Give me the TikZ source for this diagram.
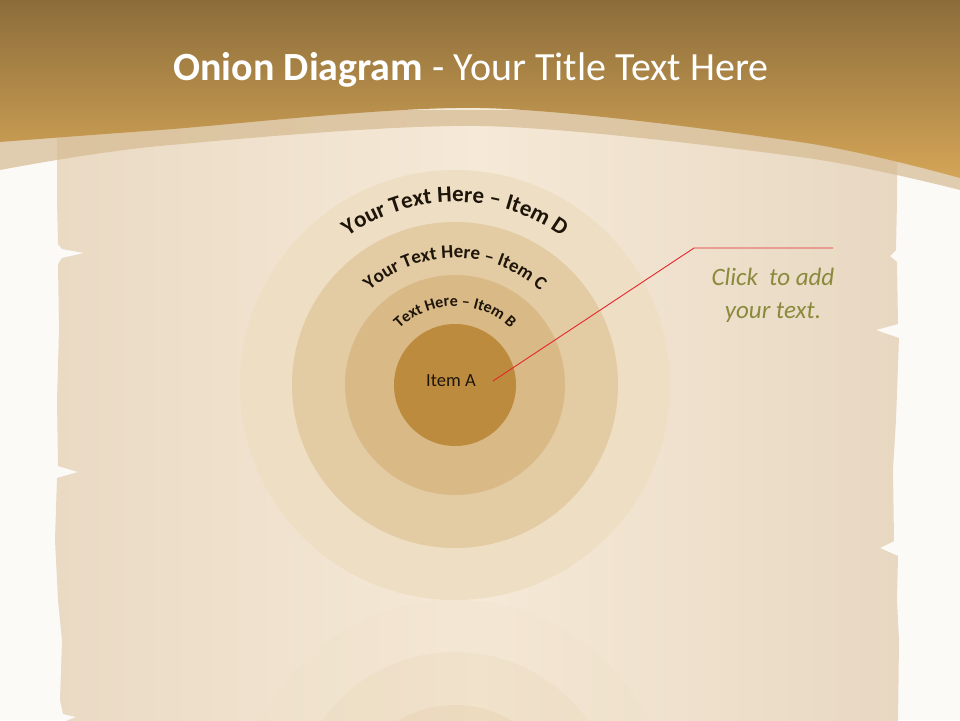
\documentclass[tikz,border=0pt]{standalone}
\usepackage{fontspec}
\setmainfont{Carlito}
\usetikzlibrary{decorations.text}
\definecolor{pagebg}{HTML}{FCFAF7}
\definecolor{parchedge}{HTML}{EADAC4}
\definecolor{parchmid}{HTML}{F5E9D7}
\definecolor{parchedgeR}{HTML}{E8D8C2}
\definecolor{hdtop}{HTML}{8C6D3A}
\definecolor{hdbot}{HTML}{D4A557}
\definecolor{bandcol}{HTML}{D6BB92}
\definecolor{ringD}{HTML}{EEDEC3}
\definecolor{ringC}{HTML}{E3CBA3}
\definecolor{ringB}{HTML}{D9B986}
\definecolor{ringA}{HTML}{BD8B3D}
\definecolor{inktext}{HTML}{1E150A}
\definecolor{olivetext}{HTML}{8B893C}
\definecolor{calloutred}{HTML}{E5262C}
\begin{document}
\begin{tikzpicture}[x=1pt,y=-1pt,
  ring/.style={circle, inner sep=0pt, draw=none},
  callout/.style={draw=calloutred, line width=0.9pt},
  note/.style={align=center, text=olivetext, font=\fontsize{25}{33}\selectfont\itshape},
  titlestyle/.style={text=white, font=\fontsize{40}{44}\selectfont, anchor=base},
  arctext/.style={decorate, decoration={text along path, text align=center, text color=inktext, text={#1}}}
]
\clip (0,0) rectangle (960,720);
\fill[pagebg] (0,0) rectangle (960,720);
% parchment
\shade[left color=parchedge, right color=parchedgeR, middle color=parchmid]
  (57,90) -- (57,200) -- (58,244) -- (62,249) -- (84,253) -- (62,258) -- (58,264)
  -- (59,330) -- (57,400) -- (58,466) -- (78,472) -- (57,478) -- (55,540)
  -- (58,600) -- (62,640) -- (60,700) -- (63,714) -- (76,717) -- (66,721) -- (64,724)
  -- (898,724) -- (899,640) -- (897,600) -- (898,556) -- (880,548) -- (894,541)
  -- (893,470) -- (896,420) -- (899,338) -- (876,330) -- (898,324) -- (897,262)
  -- (890,256) -- (896,250) -- (897,200) -- (897,90) -- cycle;
% light band under the header
\fill[bandcol, fill opacity=0.72] (0,110) -- (960,110) -- (960,190)
  -- plot[smooth] coordinates {(960,190) (800,157) (480,126) (160,146) (0,170)} -- cycle;
% header
\shade[top color=hdtop, bottom color=hdbot] (0,0) -- (960,0)
  -- plot[smooth] coordinates {(960,178) (800,142) (480,108) (160,130) (0,142)} -- cycle;
\node[titlestyle] (title) at (471,80) {\textbf{Onion Diagram} - Your Title Text Here};
% reflection
\begin{scope}[fill opacity=0.16]
  \fill[ringD] (455,815) circle[radius=215];
  \fill[ringC] (455,815) circle[radius=163];
  \fill[ringB] (455,815) circle[radius=110];
\end{scope}
% onion rings
\coordinate (ctr) at (455,385);
\node[ring, minimum size=430pt, fill=ringD] (D) at (ctr) {};
\node[ring, minimum size=326pt, fill=ringC] (C) at (ctr) {};
\node[ring, minimum size=220pt, fill=ringB] (B) at (ctr) {};
\node[ring, minimum size=122pt, fill=ringA] (A) at (ctr) {};
\node[text=inktext, font=\fontsize{18.5}{20}\selectfont] (Alabel) at (451,381) {Item A};
% curved labels
\path[arctext={|\fontsize{23}{27}\selectfont\bfseries|Your Text Here – Item D}]
  (ctr) ++(-170:183) arc[start angle=-170, end angle=-10, radius=183];
\path[arctext={|\fontsize{19}{22}\selectfont\bfseries|Your Text Here – Item C}]
  (ctr) ++(-170:127) arc[start angle=-170, end angle=-10, radius=127];
\path[arctext={|\fontsize{16}{19}\selectfont\bfseries|Text Here – Item B}]
  (ctr) ++(-175:79) arc[start angle=-175, end angle=-5, radius=79];
% callout
\coordinate (astart) at (493,381);
\coordinate (elbow) at (694,248);
\coordinate (lend) at (833,248);
\draw[callout] (astart) -- (elbow) -- (lend);
\node[note] (note) at (773,295) {Click\ \ to add\\your text.};
\end{tikzpicture}
\end{document}
